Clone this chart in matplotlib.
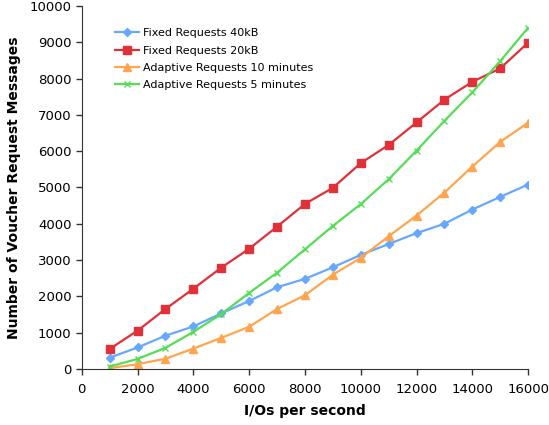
import matplotlib
matplotlib.use("Agg")
import matplotlib.pyplot as plt

x = [1000, 2000, 3000, 4000, 5000, 6000, 7000, 8000, 9000, 10000,
     11000, 12000, 13000, 14000, 15000, 16000]
fixed_40kb = [310, 590, 915, 1170, 1530, 1870, 2250, 2480, 2800, 3140,
              3440, 3740, 4000, 4390, 4740, 5080]
fixed_20kb = [550, 1055, 1650, 2210, 2790, 3310, 3920, 4545, 4990, 5670,
              6170, 6790, 7420, 7910, 8280, 8990]
adaptive_10 = [20, 130, 280, 560, 855, 1160, 1650, 2030, 2595, 3060,
               3655, 4225, 4860, 5575, 6255, 6785]
adaptive_5 = [65, 275, 580, 1020, 1510, 2095, 2650, 3295, 3940, 4540,
              5225, 6015, 6835, 7620, 8480, 9400]
labels = ["Fixed Requests 40kB", "Fixed Requests 20kB",
          "Adaptive Requests 10 minutes", "Adaptive Requests 5 minutes"]
xticks = [0, 2000, 4000, 6000, 8000, 10000, 12000, 14000, 16000]
yticks = [0, 1000, 2000, 3000, 4000, 5000, 6000, 7000, 8000, 9000, 10000]

plt.rcParams['font.family'] = ['DejaVu Sans']
fig = plt.figure(figsize=(5.49, 4.25), dpi=100)
ax = fig.add_axes([0.149, 0.132, 0.813, 0.854])

ax.plot(x, fixed_40kb, color='#66a8ff', marker='D', markersize=4, lw=1.6, label=labels[0])
ax.plot(x, fixed_20kb, color='#e03038', marker='s', markersize=6, lw=1.6, label=labels[1])
ax.plot(x, adaptive_10, color='#ffa54f', marker='^', markersize=6, lw=1.6, label=labels[2])
ax.plot(x, adaptive_5, color='#55dd55', marker='x', markersize=4, mew=1, lw=1.6, label=labels[3])

ax.set_xlim(0, 16000)
ax.set_ylim(0, 10000)
ax.set_xticks(xticks)
ax.set_yticks(yticks)
ax.tick_params(axis='both', labelsize=9.5, direction='out', length=4, width=1, color='#333333')
ax.tick_params(axis='x', pad=6)
for s in ['top', 'right']:
    ax.spines[s].set_visible(False)
for s in ['left', 'bottom']:
    ax.spines[s].set_color('#333333')
ax.set_xlabel('I/Os per second', fontsize=10, fontweight='bold', labelpad=6)
ax.set_ylabel('Number of Voucher Request Messages', fontsize=10, fontweight='bold', labelpad=6)

ax.legend(loc='upper left', bbox_to_anchor=(0.052, 0.966), frameon=False, fontsize=8,
          handlelength=2.2, handletextpad=0.3, labelspacing=0.65)

fig.savefig('out.png', dpi=100)
